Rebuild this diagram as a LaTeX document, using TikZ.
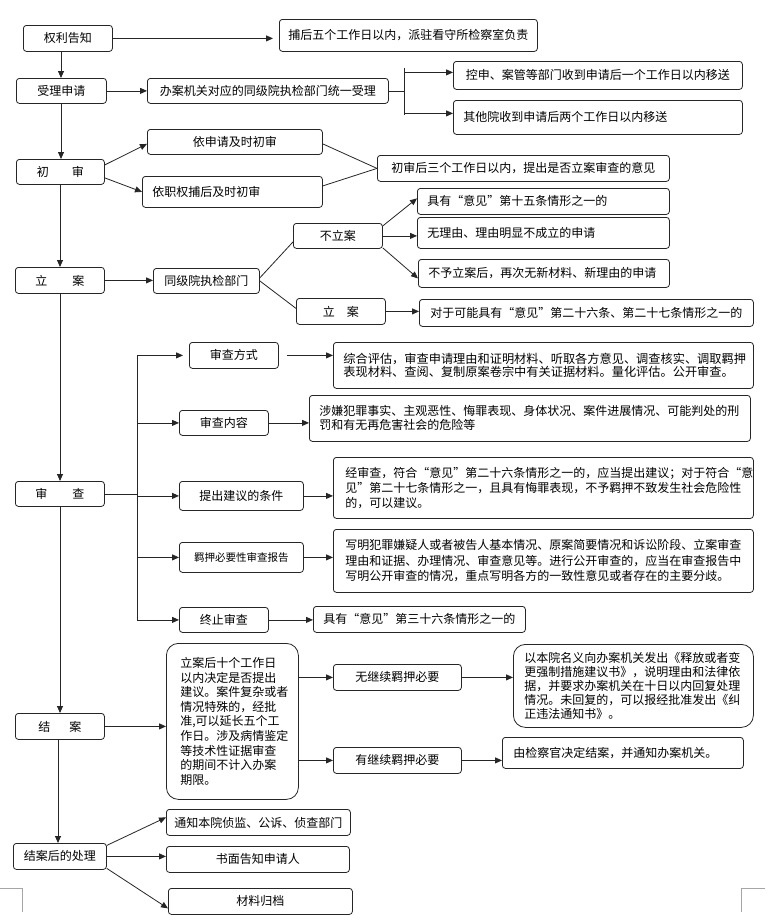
\documentclass[tikz,border=0pt]{standalone}
\usepackage{fontspec}
\newfontfamily\cjk{Noto Sans CJK SC}
\usetikzlibrary{arrows.meta}
\begin{document}
\begin{tikzpicture}[x=1pt,y=-1pt,
  box/.style={draw=black!85, line width=0.8pt, rounded corners=3pt, inner sep=0pt,
    anchor=north west, font=\cjk\fontsize{12}{14}\selectfont, text=black},
  bx/.style args={#1/#2/#3/#4}{box, at={(#1,#2)}, minimum width={(#3-#1)*1pt},
    minimum height={(#4-#2)*1pt}},
  lft/.style={align=left, inner xsep=10pt, text width=#1},
  big/.style={rounded corners=12pt},
  arr/.style={line width=0.8pt, draw=black!85, -{Triangle[length=7pt,width=6pt]}},
  ln/.style={line width=0.8pt, draw=black!85},
  pagemark/.style={line width=0.8pt, draw=black!35}
]
\fill[white] (0,0) rectangle (770,921);
\useasboundingbox (0,0) rectangle (770,921);

% ---------- main column ----------
\node[bx=23/25/112/51] (n1) {权利告知};
\node[bx=16/78/106/103] (n2) {受理申请};
\node[bx=16/159/104/184] (n3) {初\hspace{23pt}审};
\node[bx=15/267/104/293] (n4) {立\hspace{25pt}案};
\node[bx=15/481/104/506] (n5) {审\hspace{25pt}查};
\node[bx=15/713/104/739] (n6) {结\hspace{19pt}案};
\node[bx=13/843/106/869] (n7) {结案后的处理};

% ---------- right side ----------
\node[bx=279/19/537/51] (a1) {捕后五个工作日以内，派驻看守所检察室负责};
\node[bx=147/78/388/103] (b1) {办案机关对应的同级院执检部门统一受理};
\node[bx=453/61/742/89] (b2) {控申、案管等部门收到申请后一个工作日以内移送};
\node[bx=453/100/742/134, lft=269pt] (b3) {其他院收到申请后两个工作日以内移送};

\node[bx=147/129/322/154] (c1) {依申请及时初审};
\node[bx=142/176/322/207, lft=160pt] (c2) {依职权捕后及时初审};
\node[bx=377/155/669/181] (c3) {初审后三个工作日以内，提出是否立案审查的意见};

\node[bx=153/268/259/293] (d1) {同级院执检部门};
\node[bx=293/223/382/248] (d2) {不立案};
\node[bx=296/298/385/324] (d3) {立\hspace{12pt}案};
\node[bx=417/188/669/214, lft=232pt] (e1) {具有“意见”第十五条情形之一的};
\node[bx=417/217/669/248, lft=232pt] (e2) {无理由、理由明显不成立的申请};
\node[bx=418/259/669/287, lft=231pt] (e3) {不予立案后，再次无新材料、新理由的申请};
\node[bx=419/299/753/326, lft=312pt, inner xsep=11pt] (e4) {对于可能具有“意见”第二十六条、第二十七条情形之一的};

\node[bx=189/342/278/368] (f1) {审查方式};
\node[bx=179/410/268/435] (f2) {审查内容};
\node[bx=179/481/303/510] (f3) {提出建议的条件};
\node[bx=179/542/303/572, font=\cjk\fontsize{10.5}{12}\selectfont] (f4) {羁押必要性审查报告};
\node[bx=179/607/268/632] (f5) {终止审查};

\node[bx=333/342/753/388, lft=400pt, font=\cjk\fontsize{12.2}{13.5}\selectfont] (g1)
  {综合评估，审查申请理由和证明材料、听取各方意见、调查核实、调取羁押\\表现材料、查阅、复制原案卷宗中有关证据材料。量化评估。公开审查。};
\node[bx=309/395/750/441, lft=421pt, font=\cjk\fontsize{12}{14}\selectfont] (g2)
  {涉嫌犯罪事实、主观恶性、悔罪表现、身体状况、案件进展情况、可能判处的刑\\罚和有无再危害社会的危险等};
\node[bx=333/457/753/518, lft=396pt, inner xsep=12pt, font=\cjk\fontsize{12}{15}\selectfont] (g3)
  {经审查，符合“意见”第二十六条情形之一的，应当提出建议；对于符合“意\\见”第二十七条情形之一，且具有悔罪表现，不予羁押不致发生社会危险性\\的，可以建议。};
\node[bx=333/529/753/592, lft=396pt, inner xsep=12pt, font=\cjk\fontsize{12}{15.5}\selectfont] (g4)
  {写明犯罪嫌疑人或者被告人基本情况、原案简要情况和诉讼阶段、立案审查\\理由和证据、办理情况、审查意见等。进行公开审查的，应当在审查报告中\\写明公开审查的情况，重点写明各方的一致性意见或者存在的主要分歧。};
\node[bx=313/606/525/632] (g5) {具有“意见”第三十六条情形之一的};

\node[bx=166/643/298/799, big, lft=104pt, inner xsep=14pt, font=\cjk\fontsize{12}{14.6}\selectfont] (h1)
  {立案后十个工作日\\以内决定是否提出\\建议。案件复杂或者\\情况特殊的，经批\\准,可以延长五个工\\作日。涉及病情鉴定\\等技术性证据审查\\的期间不计入办案\\期限。};
\node[bx=333/664/461/690] (h2) {无继续羁押必要};
\node[bx=333/747/461/773] (h3) {有继续羁押必要};
\node[bx=513/644/753/727, big, lft=218pt, inner xsep=11pt, font=\cjk\fontsize{12}{13.8}\selectfont] (h4)
  {以本院名义向办案机关发出《释放或者变\\更强制措施建议书》，说明理由和法律依\\据，并要求办案机关在十日以内回复处理\\情况。未回复的，可以报经批准发出《纠\\正违法通知书》。};
\node[bx=502/737/743/768, lft=219pt, inner xsep=11pt] (h5) {由检察官决定结案，并通知办案机关。};

\node[bx=166/809/350/835] (i1) {通知本院侦监、公诉、侦查部门};
\node[bx=166/846/349/872] (i2) {书面告知申请人};
\node[bx=168/888/352/914] (i3) {材料归档};

% ---------- column connectors ----------
\coordinate (colA) at (61,0);
\coordinate (colB) at (60,0);
\coordinate (colC) at (58,0);
\draw[arr] (n1.south -| colA) -- (n2.north -| colA);
\draw[arr] (n2.south -| colA) -- (n3.north -| colA);
\draw[arr] (n3.south -| colB) -- (n4.north -| colB);
\draw[arr] (n4.south -| colB) -- (n5.north -| colB);
\draw[arr] (n5.south -| colB) -- (n6.north -| colB);
\draw[arr] (n6.south -| colC) -- (n7.north -| colC);

% ---------- top rows ----------
\draw[arr, shorten >=6pt] (n1.east) -- (n1.east -| a1.west);
\draw[arr] (n2.east) -- (n2.east -| b1.west);
\coordinate (brx) at (404,90);
\coordinate (bt) at (404,68);
\coordinate (bb) at (404,115);
\coordinate (b2a) at ([yshift=3pt]b2.west);
\coordinate (b3a) at ([yshift=4pt]b3.west);
\draw[ln] (b1.east) -- (b1.east -| brx);
\draw[ln] (bt) -- (bb);
\draw[arr] (b2a -| brx) -- (b2a);
\draw[arr] (b3a -| brx) -- (b3a);

\draw[arr] ([yshift=7pt]n3.east) -- ([yshift=-2pt]c1.west);
\draw[arr] ([yshift=-6pt]n3.east) -- (c2.west);
\draw[ln] ([yshift=-2pt]c1.east) -- (c3.west);
\draw[ln] ([yshift=6pt]c2.east) -- (c3.west);

% ---------- 立案 ----------
\draw[arr] (n4.east) -- (n4.east -| d1.west);
\draw[ln] ([yshift=3pt]d1.east) -- ([yshift=-6pt]d2.west);
\draw[ln] (d1.east) -- ([yshift=3pt]d3.west);
\draw[arr] ([yshift=10pt]d2.east) -- ([yshift=3pt]e1.west);
\draw[arr] (d2.east) -- (d2.east -| e2.west);
\draw[arr] ([yshift=-12pt]d2.east) -- ([yshift=-5pt]e3.west);
\draw[arr] (d3.east) -- (d3.east -| e4.west);

% ---------- 审查 ----------
\coordinate (spx) at (137,0);
\draw[ln] (n5.east) -- (n5.east -| spx);
\draw[ln] (f1.west -| spx) -- (f5.west -| spx);
\draw[arr, shorten >=6pt] (f1.west -| spx) -- (f1.west);
\draw[arr] (f2.west -| spx) -- (f2.west);
\draw[arr] (f3.west -| spx) -- (f3.west);
\draw[arr] (f4.west -| spx) -- (f4.west);
\draw[arr] (f5.west -| spx) -- (f5.west);
\draw[arr, shorten <=8pt] (f1.east) -- (f1.east -| g1.west);
\draw[arr] (f2.east) -- (f2.east -| g2.west);
\draw[arr] (f3.east) -- (f3.east -| g3.west);
\draw[arr] (f4.east) -- (f4.east -| g4.west);
\draw[arr] (f5.east) -- (f5.east -| g5.west);

% ---------- 结案 ----------
\draw[arr] (n6.east) -- (n6.east -| h1.west);
\draw[arr] (h2.west -| h1.east) -- (h2.west);
\draw[arr] (h3.west -| h1.east) -- (h3.west);
\draw[arr] (h2.east) -- (h2.east -| h4.west);
\draw[arr] (h3.east) -- (h3.east -| h5.west);

% ---------- 结案后的处理 ----------
\draw[arr] ([yshift=11pt]n7.east) -- ([yshift=5pt]i1.west);
\draw[arr] (n7.east) -- (n7.east -| i2.west);
\draw[arr] ([yshift=-12pt]n7.east) -- ([yshift=-7pt]i3.west);

% ---------- page corner marks ----------
\coordinate (mL1) at (0,888);
\coordinate (mL2) at (22,888);
\coordinate (mL3) at (22,912);
\coordinate (mR1) at (765,888);
\coordinate (mR2) at (741,888);
\coordinate (mR3) at (741,912);
\draw[pagemark] (mL1) -- (mL2) -- (mL3);
\draw[pagemark] (mR1) -- (mR2) -- (mR3);
\end{tikzpicture}
\end{document}
